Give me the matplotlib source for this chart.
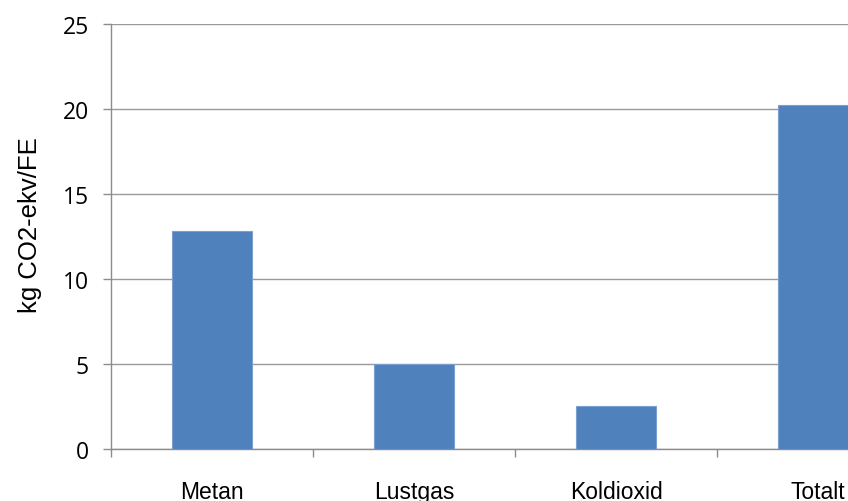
import matplotlib
matplotlib.use("Agg")
import matplotlib.pyplot as plt
import numpy as np

categories = ["Metan", "Lustgas", "Koldioxid", "Totalt"]
values = [12.8, 5.0, 2.55, 20.25]

fig = plt.figure(figsize=(8.48, 5.02), dpi=100)
# axes runs past the right edge, so the last bar is cut off
ax = fig.add_axes([111 / 848, 52 / 502, 808 / 848, 425 / 502])

x = np.arange(len(categories))
ax.bar(x, values, width=0.4, color="#4f81bd", edgecolor="#7b9fcf",
       linewidth=0.8, zorder=3)

ax.set_xlim(-0.5, len(categories) - 0.5)
ax.set_ylim(0, 25)
ax.set_yticks(np.arange(0, 26, 5))
ax.set_yticklabels([str(v) for v in range(0, 26, 5)],
                   fontfamily="Open Sans", fontsize=16.5)
ax.tick_params(axis="y", length=6, width=1, color="#8c8c8c", pad=10)

ax.set_xticks(x)
ax.set_xticklabels(categories, fontfamily="Liberation Sans", fontsize=16.5)
ax.tick_params(axis="x", which="major", length=0, pad=22)
ax.set_xticks(np.arange(0, len(categories) + 1) - 0.5, minor=True)
ax.tick_params(axis="x", which="minor", length=6, width=1, color="#8c8c8c")

ax.yaxis.grid(True, color="#999999", linewidth=1, zorder=0)
for side in ["top", "right"]:
    ax.spines[side].set_visible(False)
for side in ["left", "bottom"]:
    ax.spines[side].set_color("#8c8c8c")
    ax.spines[side].set_linewidth(1)

ax.set_ylabel("kg CO2-ekv/FE", fontfamily="Liberation Sans", fontsize=18.5)
ax.yaxis.set_label_coords(-0.085, 0.53)

fig.savefig("out.png", dpi=100)
